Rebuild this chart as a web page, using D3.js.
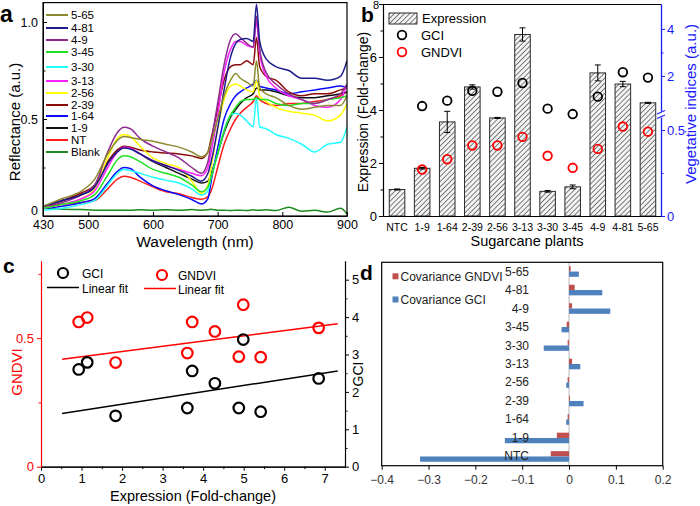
<!DOCTYPE html>
<html><head><meta charset="utf-8">
<script src="https://cdn.jsdelivr.net/npm/d3@7"></script>
<style>body{margin:0;background:#fff} svg{display:block;font-family:Arial,"Liberation Sans",sans-serif}</style>
</head><body><svg id="chart" width="700" height="506"></svg>
<script>
// ---------- Panel a data ----------
const wavelengths = [430,460,490,510,530,545,555,565,580,600,620,640,660,675,685,690,700,710,720,728,735,745,755,760,765,775,790,810,830,850,870,890,900];
const r565  = [0.05,0.09,0.13,0.19,0.32,0.39,0.41,0.405,0.395,0.385,0.37,0.355,0.33,0.305,0.33,0.38,0.50,0.62,0.70,0.735,0.71,0.69,0.67,0.80,0.66,0.63,0.61,0.57,0.55,0.56,0.57,0.57,0.62];
const r481  = [0.05,0.08,0.11,0.15,0.27,0.33,0.35,0.345,0.32,0.285,0.26,0.235,0.205,0.18,0.22,0.28,0.45,0.65,0.82,0.89,0.91,0.915,0.90,1.09,0.90,0.81,0.77,0.75,0.71,0.71,0.70,0.72,0.80];
const r49   = [0.05,0.07,0.11,0.16,0.33,0.43,0.457,0.45,0.40,0.36,0.33,0.30,0.25,0.22,0.28,0.38,0.58,0.78,0.91,0.94,0.92,0.89,0.87,1.03,0.86,0.74,0.68,0.63,0.60,0.58,0.60,0.63,0.68];
const r345  = [0.04,0.06,0.08,0.11,0.21,0.29,0.31,0.305,0.28,0.24,0.22,0.20,0.16,0.125,0.15,0.20,0.32,0.44,0.52,0.56,0.59,0.60,0.60,0.61,0.60,0.60,0.58,0.57,0.58,0.58,0.60,0.61,0.62];
const r330  = [0.03,0.04,0.06,0.08,0.16,0.22,0.24,0.235,0.22,0.20,0.185,0.17,0.14,0.108,0.13,0.20,0.32,0.44,0.52,0.53,0.52,0.49,0.46,0.61,0.46,0.45,0.42,0.40,0.37,0.33,0.37,0.38,0.46];
const r313  = [0.04,0.06,0.09,0.13,0.25,0.33,0.355,0.35,0.32,0.285,0.26,0.24,0.22,0.208,0.25,0.33,0.52,0.74,0.86,0.90,0.90,0.88,0.87,1.00,0.84,0.72,0.66,0.62,0.60,0.57,0.56,0.60,0.68];
const r256  = [0.04,0.06,0.09,0.14,0.30,0.40,0.42,0.41,0.36,0.30,0.27,0.25,0.18,0.117,0.16,0.25,0.45,0.60,0.67,0.68,0.67,0.65,0.64,0.70,0.62,0.59,0.56,0.54,0.53,0.52,0.49,0.52,0.58];
const r239  = [0.05,0.08,0.12,0.16,0.28,0.34,0.36,0.355,0.34,0.33,0.325,0.32,0.31,0.297,0.33,0.40,0.55,0.70,0.77,0.78,0.78,0.80,0.78,0.92,0.77,0.72,0.70,0.64,0.62,0.63,0.63,0.65,0.66];
const r164  = [0.04,0.05,0.07,0.09,0.17,0.23,0.25,0.245,0.20,0.155,0.13,0.11,0.085,0.062,0.09,0.18,0.35,0.50,0.58,0.62,0.64,0.66,0.68,0.70,0.67,0.66,0.65,0.63,0.64,0.65,0.66,0.67,0.66];
const r19   = [0.05,0.08,0.11,0.15,0.27,0.34,0.355,0.35,0.32,0.28,0.25,0.22,0.19,0.17,0.18,0.22,0.32,0.43,0.51,0.55,0.58,0.61,0.63,0.66,0.65,0.65,0.64,0.62,0.61,0.61,0.62,0.63,0.64];
const rNT   = [0.05,0.06,0.07,0.08,0.14,0.19,0.205,0.20,0.18,0.15,0.125,0.115,0.095,0.086,0.10,0.13,0.25,0.37,0.45,0.50,0.53,0.56,0.59,0.62,0.60,0.58,0.57,0.58,0.58,0.59,0.60,0.62,0.64];
const rBlank= [0.04,0.035,0.033,0.03,0.03,0.03,0.03,0.03,0.032,0.03,0.032,0.03,0.033,0.03,0.032,0.035,0.03,0.03,0.028,0.03,0.03,0.028,0.032,0.03,0.03,0.032,0.028,0.045,0.025,0.03,0.02,0.04,0.01];
const specNames  = ["5-65","4-81","4-9","3-45","3-30","3-13","2-56","2-39","1-64","1-9","NT","Blank"];
const specColors = ["#8c8a2e","#1c1c8c","#8e2a8e","#22e022","#22ffff","#ff22ff","#ffff00","#8b0a0a","#0a0aff","#111111","#ff1a1a","#1e8a1e"];
const specValues = [r565,r481,r49,r345,r330,r313,r256,r239,r164,r19,rNT,rBlank];
const aXTicks = [430,500,600,700,800,900];
const aYTicks = [0,0.5,1.0];

// ---------- Panel b data ----------
const plants = ["NTC","1-9","1-64","2-39","2-56","3-13","3-30","3-45","4-9","4-81","5-65"];
const expression = [1.0,1.8,3.55,4.87,3.7,6.85,0.93,1.1,5.4,4.98,4.27];
const expressionErr = [0.02,0.03,0.4,0.08,0.02,0.25,0.03,0.07,0.3,0.1,0.02];
const gciB = [null,0.72,0.95,1.37,1.33,1.70,0.61,0.38,1.12,2.16,1.93];
const gndviB = [null,0.27,0.33,0.41,0.41,0.46,0.35,0.28,0.39,0.52,0.49];
const bLeftTicks = [0,2,4,6,8];

// ---------- Panel c data ----------
const cExpr  = [0.93,1.14,1.84,3.61,3.73,4.29,4.88,4.99,5.42,6.85];
const cGndvi = [0.563,0.58,0.405,0.442,0.563,0.526,0.428,0.63,0.426,0.54];
const cExprGci = [0.93,1.14,1.84,3.61,3.73,4.29,4.88,4.99,5.42,6.85];
const cGci   = [2.6,2.79,1.36,1.57,2.56,2.23,1.57,3.4,1.47,2.36];
const fitX = [0.52,7.32];
const fitGndvi = [0.418,0.556];
const fitGci = [1.42,2.56];

// ---------- Panel d data ----------
const dCats = ["NTC","1-9","1-64","2-39","2-56","3-13","3-30","3-45","4-9","4-81","5-65"];
const covGndvi = [-0.039,-0.026,-0.003,0.002,-0.003,0.0065,-0.003,-0.005,0.0065,0.012,0.0036];
const covGci   = [-0.318,-0.137,-0.006,0.031,-0.006,0.024,-0.054,-0.016,0.088,0.071,0.021];
const dTicks = [-0.4,-0.3,-0.2,-0.1,0,0.1,0.2];

const svg = d3.select("#chart");
const defs = svg.append("defs");
const pat = defs.append("pattern").attr("id","hatch").attr("patternUnits","userSpaceOnUse")
  .attr("width",3.6).attr("height",3.6).attr("patternTransform","rotate(45)");
pat.append("rect").attr("width",3.6).attr("height",3.6).attr("fill","#f4f4f4");
pat.append("line").attr("x1",0).attr("y1",0).attr("x2",0).attr("y2",3.6).attr("stroke","#3a3a3a").attr("stroke-width",1.3);

function styleAxis(g, color, fs){
  g.selectAll("path,line").attr("stroke",color).attr("stroke-width",1);
  g.selectAll("text").attr("fill",color).attr("font-size",fs).attr("font-family","Arial, Liberation Sans, sans-serif");
}
const fmtInt = d3.format("d");

// ================= Panel a =================
{
  const x = d3.scaleLinear().domain([430,900]).range([43,347]);
  const y = d3.scaleLinear().domain([0,1.1]).range([216,2.6]);
  defs.append("clipPath").attr("id","clipA").append("rect").attr("x",43).attr("y",2.6).attr("width",304).attr("height",213.4);
  const line = d3.line().x((d,i)=>x(wavelengths[i])).y(d=>y(d)).curve(d3.curveMonotoneX);
  const gl = svg.append("g").attr("clip-path","url(#clipA)");
  for(let k=specValues.length-1;k>=0;k--){
    gl.append("path").attr("d",line(specValues[k])).attr("fill","none").attr("stroke",specColors[k]).attr("stroke-width",1.5);
  }
  const ax = svg.append("g").attr("transform","translate(0,216)").call(d3.axisBottom(x).tickValues(aXTicks).tickSize(-4).tickSizeOuter(0).tickPadding(4).tickFormat(fmtInt));
  styleAxis(ax,"#000",12.5);
  const ay = svg.append("g").attr("transform","translate(43,0)").call(d3.axisLeft(y).tickValues(aYTicks).tickSize(-4).tickSizeOuter(0).tickPadding(5).tickFormat(d=>d===0?"0":d3.format(".1f")(d)));
  styleAxis(ay,"#000",12.5);
  ay.selectAll(".tick").filter(d=>d===0).select("text").attr("dy","-0.1em");
  const ay2 = svg.append("g").attr("transform","translate(43,0)").call(d3.axisLeft(y).tickValues([0.25,0.75]).tickSize(-2.5).tickSizeOuter(0).tickFormat(""));
  styleAxis(ay2,"#000",13);
  svg.append("rect").attr("x",43).attr("y",2.6).attr("width",304).attr("height",213.4).attr("fill","none").attr("stroke","#000").attr("stroke-width",1.2);
  const legY = [15,28,40,52,67,81,93,105,116,128,140,152];
  specNames.forEach((n,i)=>{
    svg.append("line").attr("x1",46).attr("x2",68).attr("y1",legY[i]).attr("y2",legY[i]).attr("stroke",specColors[i]).attr("stroke-width",2);
    svg.append("text").attr("x",71).attr("y",legY[i]+4).attr("font-size",11.5).text(n);
  });
  svg.append("text").attr("x",195).attr("y",247).attr("text-anchor","middle").attr("font-size",15.5).text("Wavelength (nm)");
  svg.append("text").attr("transform","translate(20,122) rotate(-90)").attr("text-anchor","middle").attr("font-size",15).text("Reflectance (a.u.)");
  svg.append("text").attr("x",0).attr("y",22).attr("font-size",23).attr("font-weight","bold").text("a");
}

// ================= Panel b =================
{
  const x = d3.scaleBand().domain(plants).range([383,662]).paddingInner(0.38).paddingOuter(0.25);
  const y = d3.scaleLinear().domain([0,8]).range([216,4]);
  const vLow = d3.scaleLinear().domain([0,0.587]).range([216,115]);
  const vHigh = d3.scaleLinear().domain([0.34,5.06]).range([115,4]);
  plants.forEach((p,i)=>{
    svg.append("rect").attr("x",x(p)).attr("y",y(expression[i])).attr("width",x.bandwidth()).attr("height",216-y(expression[i]))
      .attr("fill","url(#hatch)").attr("stroke","#2a2a2a").attr("stroke-width",1);
    const cx = x(p)+x.bandwidth()/2;
    const hi = y(expression[i]+expressionErr[i]), lo = y(expression[i]-expressionErr[i]);
    svg.append("line").attr("x1",cx).attr("x2",cx).attr("y1",lo).attr("y2",hi).attr("stroke","#000").attr("stroke-width",1);
    svg.append("line").attr("x1",cx-3).attr("x2",cx+3).attr("y1",hi).attr("y2",hi).attr("stroke","#000").attr("stroke-width",1);
    svg.append("line").attr("x1",cx-3).attr("x2",cx+3).attr("y1",lo).attr("y2",lo).attr("stroke","#000").attr("stroke-width",1);
    if(gciB[i]!==null){
      svg.append("circle").attr("cx",cx).attr("cy",vHigh(gciB[i])).attr("r",4.3).attr("fill","none").attr("stroke","#000").attr("stroke-width",1.8);
    }
    if(gndviB[i]!==null){
      svg.append("circle").attr("cx",cx).attr("cy",vLow(gndviB[i])).attr("r",4.3).attr("fill","none").attr("stroke","#ff0000").attr("stroke-width",1.8);
    }
  });
  const ax = svg.append("g").attr("transform","translate(0,216)").call(d3.axisBottom(x).tickSize(0).tickPadding(8));
  styleAxis(ax,"#000",10.5);
  ax.select(".domain").attr("stroke-width",1.2);
  const ay = svg.append("g").attr("transform","translate(383,0)").call(d3.axisLeft(y).tickValues(bLeftTicks).tickSize(4).tickSizeOuter(0).tickPadding(2).tickFormat(fmtInt));
  styleAxis(ay,"#000",13);
  ay.selectAll(".tick").filter(d=>d===8).select("text").attr("font-size",11).attr("dy","0.45em").attr("x",-4);
  const ay2 = svg.append("g").attr("transform","translate(383,0)").call(d3.axisLeft(y).tickValues([1,3,5,7]).tickSize(2.5).tickSizeOuter(0).tickFormat(""));
  styleAxis(ay2,"#000",13);
  ay.select(".domain").attr("stroke-width",1.2);
  svg.append("line").attr("x1",383).attr("x2",661).attr("y1",4.5).attr("y2",4.5).attr("stroke","#000").attr("stroke-width",1.2);
  const blue = "#1a1aff";
  const rl = svg.append("g").attr("transform","translate(661,0)").call(d3.axisRight(vLow).tickValues([0,0.5]).tickSize(4).tickSizeOuter(0).tickPadding(2).tickFormat(d=>d===0?"0":"0.5"));
  styleAxis(rl,blue,13);
  const rl2 = svg.append("g").attr("transform","translate(661,0)").call(d3.axisRight(vLow).tickValues([0.25]).tickSize(2.5).tickSizeOuter(0).tickFormat(""));
  styleAxis(rl2,blue,13);
  const rh = svg.append("g").attr("transform","translate(661,0)").call(d3.axisRight(vHigh).tickValues([2,4]).tickSize(4).tickSizeOuter(0).tickPadding(2).tickFormat(fmtInt));
  styleAxis(rh,blue,13);
  const rh2 = svg.append("g").attr("transform","translate(661,0)").call(d3.axisRight(vHigh).tickValues([3]).tickSize(2.5).tickSizeOuter(0).tickFormat(""));
  styleAxis(rh2,blue,13);
  rl.select(".domain").attr("stroke-width",1.3); rh.select(".domain").attr("stroke-width",1.3);
  svg.append("rect").attr("x",657).attr("y",111.5).attr("width",8).attr("height",6).attr("fill","#fff");
  svg.append("line").attr("x1",657).attr("x2",665).attr("y1",114).attr("y2",110.5).attr("stroke",blue).attr("stroke-width",1.2);
  svg.append("line").attr("x1",657).attr("x2",665).attr("y1",118.5).attr("y2",115).attr("stroke",blue).attr("stroke-width",1.2);
  svg.append("rect").attr("x",389).attr("y",13).attr("width",28).attr("height",11).attr("fill","url(#hatch)").attr("stroke","#2a2a2a");
  svg.append("text").attr("x",422).attr("y",23).attr("font-size",13).text("Expression");
  svg.append("circle").attr("cx",402).attr("cy",35).attr("r",4.3).attr("fill","none").attr("stroke","#000").attr("stroke-width",1.8);
  svg.append("text").attr("x",421).attr("y",40).attr("font-size",13).text("GCI");
  svg.append("circle").attr("cx",402).attr("cy",52).attr("r",4.3).attr("fill","none").attr("stroke","#ff0000").attr("stroke-width",1.8);
  svg.append("text").attr("x",421).attr("y",57).attr("font-size",13).text("GNDVI");
  svg.append("text").attr("x",527).attr("y",246).attr("text-anchor","middle").attr("font-size",14.5).text("Sugarcane plants");
  svg.append("text").attr("transform","translate(368,112) rotate(-90)").attr("text-anchor","middle").attr("font-size",14).text("Expression (Fold-change)");
  svg.append("text").attr("transform","translate(696,104) rotate(-90)").attr("text-anchor","middle").attr("font-size",15).attr("fill",blue).text("Vegetative indices (a.u.)");
  svg.append("text").attr("x",361).attr("y",22).attr("font-size",21).attr("font-weight","bold").text("b");
}

// ================= Panel c =================
{
  const x = d3.scaleLinear().domain([0,7.5]).range([41,345]);
  const yL = d3.scaleLinear().domain([0,0.8]).range([466.7,261]);
  const yR = d3.scaleLinear().domain([0,5.5]).range([466.7,261]);
  const red = "#ff0000";
  const ax = svg.append("g").attr("transform","translate(0,466.7)").call(d3.axisBottom(x).tickValues([0,1,2,3,4,5,6,7]).tickSize(4).tickSizeOuter(0).tickPadding(3).tickFormat(fmtInt));
  styleAxis(ax,"#000",13);
  const ax2 = svg.append("g").attr("transform","translate(0,466.7)").call(d3.axisBottom(x).tickValues([0.5,1.5,2.5,3.5,4.5,5.5,6.5]).tickSize(2.5).tickSizeOuter(0).tickFormat(""));
  styleAxis(ax2,"#000",13);
  ax.select(".domain").attr("stroke-width",1.2);
  const ayl = svg.append("g").attr("transform","translate(41,0)").call(d3.axisLeft(yL).tickValues([0,0.5]).tickSize(4).tickSizeOuter(0).tickPadding(3).tickFormat(d=>d===0?"0":"0.5"));
  styleAxis(ayl,red,13);
  const ayl2 = svg.append("g").attr("transform","translate(41,0)").call(d3.axisLeft(yL).tickValues([0.25,0.75]).tickSize(2.5).tickSizeOuter(0).tickFormat(""));
  styleAxis(ayl2,red,13);
  ayl.select(".domain").attr("stroke-width",1.2);
  const ayr = svg.append("g").attr("transform","translate(345,0)").call(d3.axisRight(yR).tickValues([0,1,2,3,4,5]).tickSize(4).tickSizeOuter(0).tickPadding(3).tickFormat(fmtInt));
  styleAxis(ayr,"#000",13);
  const ayr2 = svg.append("g").attr("transform","translate(345,0)").call(d3.axisRight(yR).tickValues([0.5,1.5,2.5,3.5,4.5]).tickSize(2.5).tickSizeOuter(0).tickFormat(""));
  styleAxis(ayr2,"#000",13);
  ayr.select(".domain").attr("stroke-width",1.2);
  svg.append("line").attr("x1",x(fitX[0])).attr("x2",x(fitX[1])).attr("y1",yL(fitGndvi[0])).attr("y2",yL(fitGndvi[1])).attr("stroke",red).attr("stroke-width",1.5);
  svg.append("line").attr("x1",x(fitX[0])).attr("x2",x(fitX[1])).attr("y1",yR(fitGci[0])).attr("y2",yR(fitGci[1])).attr("stroke","#000").attr("stroke-width",1.5);
  cExpr.forEach((e,i)=>{
    svg.append("circle").attr("cx",x(e)).attr("cy",yL(cGndvi[i])).attr("r",5.3).attr("fill","none").attr("stroke",red).attr("stroke-width",2.2);
  });
  cExprGci.forEach((e,i)=>{
    svg.append("circle").attr("cx",x(e)).attr("cy",yR(cGci[i])).attr("r",5.3).attr("fill","none").attr("stroke","#000").attr("stroke-width",2.2);
  });
  svg.append("circle").attr("cx",63).attr("cy",273).attr("r",5).attr("fill","none").attr("stroke","#000").attr("stroke-width",2.2);
  svg.append("text").attr("x",82).attr("y",277.5).attr("font-size",12).text("GCI");
  svg.append("line").attr("x1",47).attr("x2",79).attr("y1",287.5).attr("y2",287.5).attr("stroke","#000").attr("stroke-width",1.5);
  svg.append("text").attr("x",82).attr("y",292.5).attr("font-size",12).text("Linear fit");
  svg.append("circle").attr("cx",162).attr("cy",275).attr("r",5).attr("fill","none").attr("stroke",red).attr("stroke-width",2.2);
  svg.append("text").attr("x",178).attr("y",280).attr("font-size",12).text("GNDVI");
  svg.append("line").attr("x1",144).attr("x2",176).attr("y1",288.5).attr("y2",288.5).attr("stroke",red).attr("stroke-width",1.5);
  svg.append("text").attr("x",178).attr("y",293.5).attr("font-size",12).text("Linear fit");
  svg.append("text").attr("x",193).attr("y",501).attr("text-anchor","middle").attr("font-size",14.5).text("Expression (Fold-change)");
  svg.append("text").attr("transform","translate(22,372) rotate(-90)").attr("text-anchor","middle").attr("font-size",15).attr("fill",red).text("GNDVI");
  svg.append("text").attr("transform","translate(363,374) rotate(-90)").attr("text-anchor","middle").attr("font-size",14).text("GCI");
  svg.append("text").attr("x",3).attr("y",273).attr("font-size",21).attr("font-weight","bold").text("c");
}

// ================= Panel d =================
{
  const x = d3.scaleLinear().domain([-0.4,0.2]).range([381.7,662.7]);
  const y = d3.scaleBand().domain(dCats.slice().reverse()).range([262.3,465.7]);
  const bh = 5.3;
  svg.append("line").attr("x1",x(0)).attr("x2",x(0)).attr("y1",262.3).attr("y2",465.7).attr("stroke","#b8b8b8").attr("stroke-width",1);
  dCats.forEach((c,i)=>{
    const cy = y(c)+y.bandwidth()/2;
    svg.append("rect").attr("x",x(Math.min(0,covGndvi[i]))).attr("y",cy-bh).attr("width",Math.abs(x(covGndvi[i])-x(0))).attr("height",bh).attr("fill","#c0504d");
    svg.append("rect").attr("x",x(Math.min(0,covGci[i]))).attr("y",cy).attr("width",Math.abs(x(covGci[i])-x(0))).attr("height",bh).attr("fill","#4f81bd");
  });
  dCats.forEach((c,i)=>{
    const cy = y(c)+y.bandwidth()/2;
    svg.append("text").attr("x",529).attr("y",cy+4).attr("text-anchor","end").attr("font-size",12).attr("fill","#222").text(c);
  });
  svg.append("rect").attr("x",381.7).attr("y",262.3).attr("width",281).attr("height",203.4).attr("fill","none").attr("stroke","#000").attr("stroke-width",1.2);
  const ax = svg.append("g").attr("transform","translate(0,465.7)").call(d3.axisBottom(x).tickValues(dTicks).tickSize(4).tickSizeOuter(0).tickPadding(6).tickFormat(d=>d===0?"0":d3.format(".1f")(d)));
  styleAxis(ax,"#000",12);
  ax.selectAll("text").attr("fill","#333");
  ax.select(".domain").remove();
  svg.append("rect").attr("x",392.5).attr("y",273.3).attr("width",6).attr("height",6).attr("fill","#c0504d");
  svg.append("text").attr("x",400.5).attr("y",281).attr("font-size",12).attr("fill","#222").text("Covariance GNDVI");
  svg.append("rect").attr("x",392.5).attr("y",296.5).attr("width",6).attr("height",6).attr("fill","#4f81bd");
  svg.append("text").attr("x",400.5).attr("y",304).attr("font-size",12).attr("fill","#222").text("Covariance  GCI");
  svg.append("text").attr("x",360).attr("y",280).attr("font-size",21).attr("font-weight","bold").text("d");
}
</script>
</body></html>
